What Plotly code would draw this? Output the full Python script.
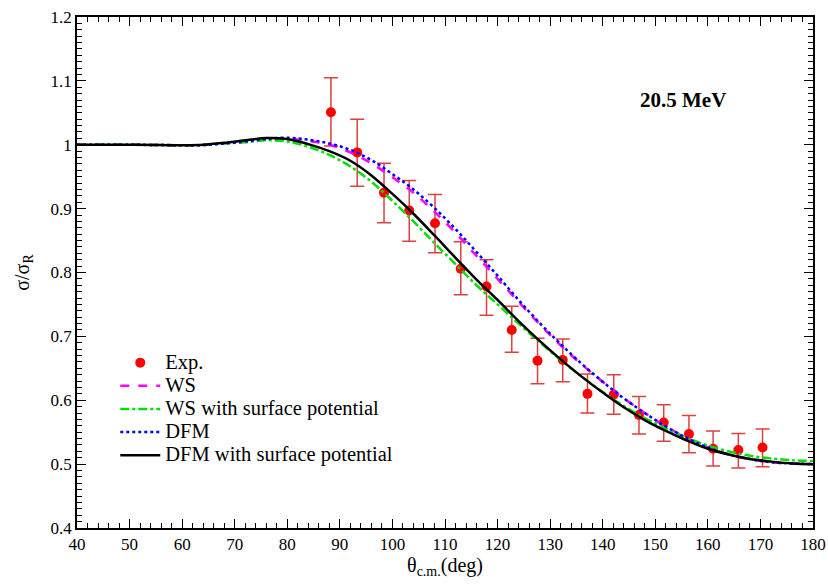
import plotly.graph_objects as go

# Experimental data
exp_x = [88.3, 93.3, 98.4, 103.2, 108.1, 113.0, 117.9, 122.7, 127.6, 132.4, 137.1, 142.1, 146.9, 151.6, 156.4, 161.0, 165.8, 170.4]
exp_y = [1.051, 0.988, 0.925, 0.897, 0.877, 0.806, 0.778, 0.710, 0.662, 0.663, 0.610, 0.609, 0.577, 0.565, 0.547, 0.524, 0.522, 0.526]
exp_hi = [1.105, 1.040, 0.971, 0.944, 0.922, 0.848, 0.820, 0.747, 0.697, 0.696, 0.641, 0.640, 0.606, 0.593, 0.576, 0.552, 0.548, 0.555]
exp_lo = [0.998, 0.935, 0.878, 0.849, 0.831, 0.765, 0.733, 0.675, 0.626, 0.629, 0.580, 0.578, 0.547, 0.536, 0.518, 0.497, 0.494, 0.496]

# Theory curves
th_x = [40, 50, 56, 60, 64, 68, 72, 76, 80, 84, 88, 92, 96, 100, 104, 108, 112, 116, 120,
        124, 128, 132, 136, 140, 144, 148, 152, 156, 160, 164, 168, 172, 176, 180]
ws = [1.000, 1.000, 0.9995, 0.9993, 0.9995, 1.002, 1.005, 1.008, 1.0095, 1.006, 1.000, 0.988, 0.971, 0.949, 0.925,
      0.895, 0.862, 0.826, 0.790, 0.754, 0.719, 0.686, 0.656, 0.629, 0.603, 0.580, 0.559, 0.541, 0.526,
      0.515, 0.508, 0.503, 0.501, 0.500]
ws_surf = [1.000, 1.000, 0.9995, 0.9993, 0.9995, 1.002, 1.004, 1.007, 1.005, 0.997, 0.984, 0.966, 0.942, 0.912,
           0.880, 0.846, 0.813, 0.780, 0.750, 0.720, 0.691, 0.663, 0.637, 0.613, 0.591, 0.572, 0.556,
           0.541, 0.529, 0.520, 0.513, 0.509, 0.506, 0.505]
dfm = [1.000, 1.000, 0.9995, 0.9993, 0.9995, 1.002, 1.005, 1.009, 1.011, 1.008, 1.002, 0.992, 0.976, 0.954, 0.930,
       0.901, 0.868, 0.832, 0.795, 0.757, 0.721, 0.688, 0.657, 0.629, 0.603, 0.580, 0.559, 0.541, 0.526,
       0.515, 0.508, 0.503, 0.501, 0.500]
dfm_surf = [1.000, 1.000, 0.9995, 0.9993, 1.000, 1.003, 1.007, 1.0105, 1.009, 1.001, 0.990, 0.975, 0.952, 0.923,
            0.892, 0.858, 0.823, 0.789, 0.757, 0.724, 0.693, 0.664, 0.637, 0.612, 0.589, 0.569, 0.552,
            0.537, 0.524, 0.515, 0.508, 0.504, 0.501, 0.500]

series_names = ["Exp.", "WS", "WS with surface potential", "DFM", "DFM with surface potential"]

FONT = "Liberation Serif, Times New Roman, serif"


def leg(name):
    return f"<span style='font-size:20.5px'>{name}</span>"


fig = go.Figure()
fig.add_trace(go.Scatter(
    x=exp_x, y=exp_y, mode="markers", name=leg(series_names[0]),
    marker=dict(color="#ff0000", size=10),
    error_y=dict(type="data", symmetric=False,
                 array=[h - y for h, y in zip(exp_hi, exp_y)],
                 arrayminus=[y - l for l, y in zip(exp_lo, exp_y)],
                 color="#dd4040", thickness=1.5, width=7),
))
fig.add_trace(go.Scatter(x=th_x, y=ws, mode="lines", name=leg(series_names[1]), line_shape="spline",
                         line=dict(color="#ff00ff", width=2.5, dash="dash")))
fig.add_trace(go.Scatter(x=th_x, y=ws_surf, mode="lines", name=leg(series_names[2]), line_shape="spline",
                         line=dict(color="#00e000", width=2.5, dash="dashdot")))
fig.add_trace(go.Scatter(x=th_x, y=dfm, mode="lines", name=leg(series_names[3]), line_shape="spline",
                         line=dict(color="#0000ff", width=2.5, dash="dot")))
fig.add_trace(go.Scatter(x=th_x, y=dfm_surf, mode="lines", name=leg(series_names[4]), line_shape="spline",
                         line=dict(color="#000000", width=2.5)))

fig.add_annotation(x=155.3, y=1.070, text="<b>20.5 MeV</b>", showarrow=False,
                   font=dict(family=FONT, size=21, color="black"))

axis_common = dict(showline=True, linecolor="black", linewidth=1.5, mirror="ticks",
                   ticks="inside", ticklen=9, tickwidth=1.2, tickcolor="black",
                   showgrid=False, zeroline=False, automargin=False,
                   tickfont=dict(family=FONT, size=17, color="black"))

fig.update_layout(
    width=828, height=584,
    margin=dict(l=77, r=15, t=17, b=56),
    plot_bgcolor="white", paper_bgcolor="white",
    xaxis=dict(range=[40, 180], dtick=10, tick0=40,
               minor=dict(dtick=2, ticklen=5, ticks="inside", tickcolor="black"),
               title=dict(text="θ<sub>c.m.</sub>(deg)", font=dict(family=FONT, size=20, color="black"), standoff=2),
               **axis_common),
    yaxis=dict(range=[0.4, 1.2], dtick=0.1, tick0=0.4,
               minor=dict(dtick=0.01, ticklen=5, ticks="inside", tickcolor="black"),
               title=dict(text="σ/σ<sub>R</sub>", font=dict(family=FONT, size=20, color="black"), standoff=16),
               **axis_common),
    legend=dict(x=0.052, y=0.356, xanchor="left", yanchor="top",
                bgcolor="rgba(0,0,0,0)", font=dict(family=FONT, size=15.5, color="black"),
                tracegroupgap=0, itemwidth=40),
    showlegend=True,
)

fig.write_html("out.html")
